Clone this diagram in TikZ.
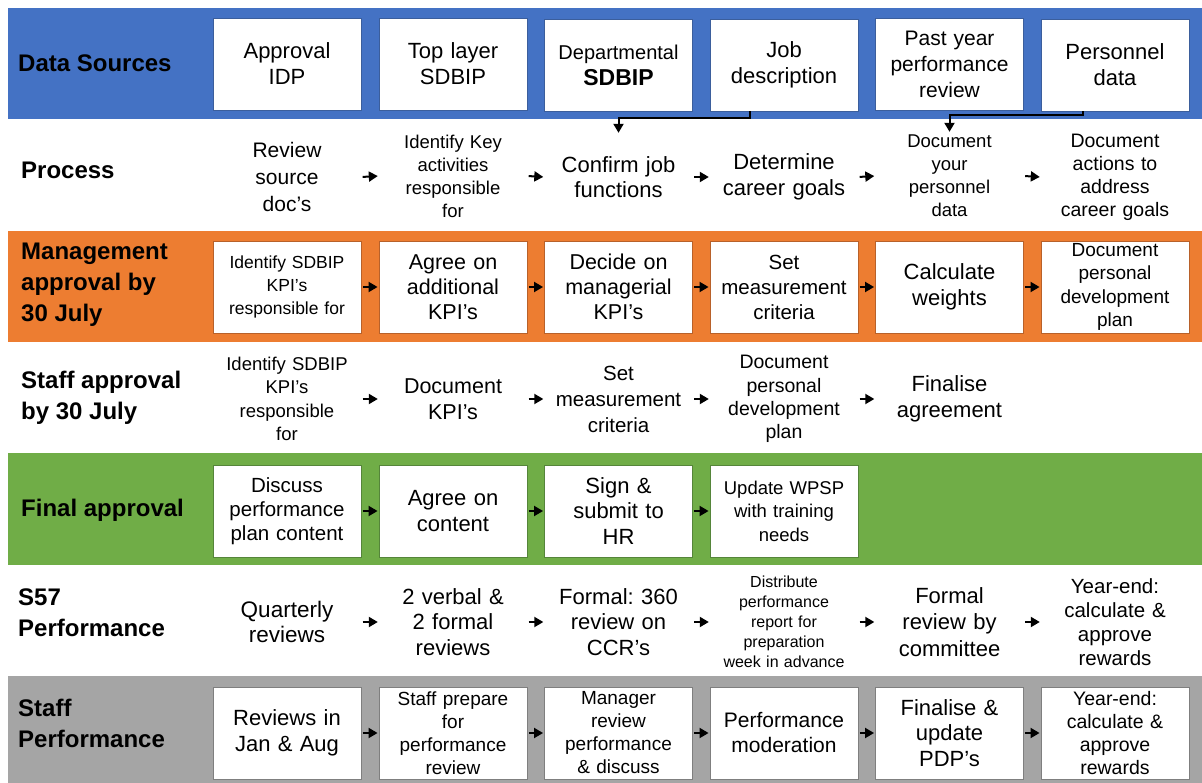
\documentclass[tikz,border=0pt]{standalone}
\usepackage{fontspec}
\setmainfont{Liberation Sans}
\usetikzlibrary{arrows.meta}
\definecolor{cblue}{HTML}{4472C4}
\definecolor{corange}{HTML}{ED7D31}
\definecolor{cgreen}{HTML}{70AD47}
\definecolor{cgray}{HTML}{A5A5A5}
\definecolor{dblue}{HTML}{3B5E9C}
\definecolor{dorange}{HTML}{B8612A}
\definecolor{dgreen}{HTML}{55853A}
\definecolor{dgray}{HTML}{7F7F7F}
\newcommand\myfs[2]{\fontsize{#1pt}{#2pt}\selectfont}
\frenchspacing
\tikzset{
  box/.style={draw=#1, fill=white, line width=0.9pt, minimum width=148pt, minimum height=92pt,
    text width=146pt, inner xsep=1pt, inner ysep=0pt, align=center},
  free/.style={minimum width=148pt, minimum height=92pt,
    text width=146pt, inner xsep=1pt, inner ysep=0pt, align=center},
  lab/.style={anchor=west, inner sep=0pt, align=left, font=\bfseries\myfs{24}{31}},
  arr/.style={-{Triangle[length=9pt,width=10pt]}, line width=2pt, shorten <=1.5pt, shorten >=1pt},
  conn/.style={-{Triangle[length=9pt,width=10pt]}, line width=2pt, shorten >=1pt},
}
\begin{document}
\begin{tikzpicture}[x=1pt,y=-1pt]
\useasboundingbox (0,0) rectangle (1202,783);
% bands
\fill[cblue] (8,8) rectangle (1202,119);
\fill[corange] (8,231) rectangle (1202,342);
\fill[cgreen] (8,453) rectangle (1202,565);
\fill[cgray] (8,676) rectangle (1202,783);
% labels
\node[lab] (L1) at (18,63) {Data Sources};
\node[lab] (L2) at (21,170) {Process};
\node[lab] (L3) at (21,285) {Management\\approval by\\30 July};
\node[lab] (L4) at (21,398) {Staff approval\\by 30 July};
\node[lab] (L5) at (21,510) {Final approval};
\node[lab] (L6) at (18,613) {S57\\Performance};
\node[lab] (L7) at (18,723) {Staff\\Performance};
% row 1 data sources
\node[box=dblue, font=\myfs{22}{26}] (d1) at (287,64) {Approval\\IDP};
\node[box=dblue, font=\myfs{22}{26}] (d2) at (453,64) {Top layer\\SDBIP};
\node[box=dblue, font=\myfs{20}{26}] (d3) at (618.5,65) {Departmental\\\myfs{23}{27}\bfseries SDBIP};
\node[box=dblue, font=\myfs{22}{26}] (d4) at (784,65) {Job\\description};
\node[box=dblue, font=\myfs{21}{26}] (d5) at (949.5,64) {Past year\\performance\\review};
\node[box=dblue, font=\myfs{22}{26}] (d6) at (1115,65) {Personnel\\data};
% row 2 process
\node[free, font=\myfs{21}{27}] (p1) at (287,177) {Review\\source\\doc's};
\node[free, font=\myfs{18.5}{23}] (p2) at (453,176) {Identify Key\\activities\\responsible\\for};
\node[free, font=\myfs{22}{25}] (p3) at (618.5,177) {Confirm job\\functions};
\node[free, font=\myfs{22}{26}] (p4) at (784,177) {Determine\\career goals};
\node[free, font=\myfs{18.5}{23}] (p5) at (949.5,176) {Document\\your\\personnel\\data};
\node[free, font=\myfs{19.5}{23}] (p6) at (1115,177) {Document\\actions to\\address\\career goals};
% row 3 management
\node[box=dorange, font=\myfs{17.5}{23}] (m1) at (287,287) {Identify SDBIP\\KPI's\\responsible for};
\node[box=dorange, font=\myfs{21.5}{25}] (m2) at (453,287) {Agree on\\additional\\KPI's};
\node[box=dorange, font=\myfs{21.5}{25}] (m3) at (618.5,287) {Decide on\\managerial\\KPI's};
\node[box=dorange, font=\myfs{20.5}{25}] (m4) at (784,287) {Set\\measurement\\criteria};
\node[box=dorange, font=\myfs{22}{26}] (m5) at (949.5,287) {Calculate\\weights};
\node[box=dorange, font=\myfs{19}{23.3}] (m6) at (1115,287) {Document\\personal\\development\\plan};
% row 4 staff approval
\node[free, font=\myfs{18.5}{23.3}] (s1) at (287,399) {Identify SDBIP\\KPI's\\responsible\\for};
\node[free, font=\myfs{21.5}{26}] (s2) at (453,399) {Document\\KPI's};
\node[free, font=\myfs{20.5}{26}] (s3) at (618.5,399) {Set\\measurement\\criteria};
\node[free, font=\myfs{19.5}{23.3}] (s4) at (784,399) {Document\\personal\\development\\plan};
\node[free, font=\myfs{22}{26}] (s5) at (949.5,399) {Finalise\\agreement};
% row 5 final approval
\node[box=dgreen, font=\myfs{20.5}{24}] (f1) at (287,511) {Discuss\\performance\\plan content};
\node[box=dgreen, font=\myfs{22}{26}] (f2) at (453,511) {Agree on\\content};
\node[box=dgreen, font=\myfs{22}{25.5}] (f3) at (618.5,511) {Sign \&\\submit to\\HR};
\node[box=dgreen, font=\myfs{18.5}{23.5}] (f4) at (784,511) {Update WPSP\\with training\\needs};
% row 6 S57
\node[free, font=\myfs{22.5}{25}] (q1) at (287,622) {Quarterly\\reviews};
\node[free, font=\myfs{22}{25.5}] (q2) at (453,622) {2 verbal \&\\2 formal\\reviews};
\node[free, font=\myfs{22}{25.5}] (q3) at (618.5,622) {Formal: 360\\review on\\CCR's};
\node[free, font=\myfs{16}{20}] (q4) at (784,622) {Distribute\\performance\\report for\\preparation\\week in advance};
\node[free, font=\myfs{22}{26.5}] (q5) at (949.5,622) {Formal\\review by\\committee};
\node[free, font=\myfs{20.5}{24}] (q6) at (1115,622) {Year-end:\\calculate \&\\approve\\rewards};
% row 7 staff performance
\node[box=dgray, font=\myfs{22}{26}] (r1) at (287,733) {Reviews in\\Jan \& Aug};
\node[box=dgray, font=\myfs{19}{23}] (r2) at (453,733) {Staff prepare\\for\\performance\\review};
\node[box=dgray, font=\myfs{19}{23}] (r3) at (618.5,733) {Manager\\review\\performance\\\& discuss};
\node[box=dgray, font=\myfs{21}{25}] (r4) at (784,733) {Performance\\moderation};
\node[box=dgray, font=\myfs{22}{25.5}] (r5) at (949.5,733) {Finalise \&\\update\\PDP's};
\node[box=dgray, font=\myfs{19.5}{23}] (r6) at (1115,733) {Year-end:\\calculate \&\\approve\\rewards};
% arrows
\foreach \a/\b in {p1/p2,p2/p3,p3/p4,p4/p5,p5/p6,
                   m1/m2,m2/m3,m3/m4,m4/m5,m5/m6,
                   s1/s2,s2/s3,s3/s4,s4/s5,
                   f1/f2,f2/f3,f3/f4,
                   q1/q2,q2/q3,q3/q4,q4/q5,q5/q6,
                   r1/r2,r2/r3,r3/r4,r4/r5,r5/r6}
  \draw[arr] (\a.east) -- (\b.west);
% connectors from data sources
\draw[conn] ([xshift=-34pt]d4.south) -- ++(0,7) -| ([yshift=-3pt]p3.north);
\draw[conn] ([xshift=-32pt]d6.south) -- ++(0,4) -| ([yshift=-3pt]p5.north);
\end{tikzpicture}
\end{document}
